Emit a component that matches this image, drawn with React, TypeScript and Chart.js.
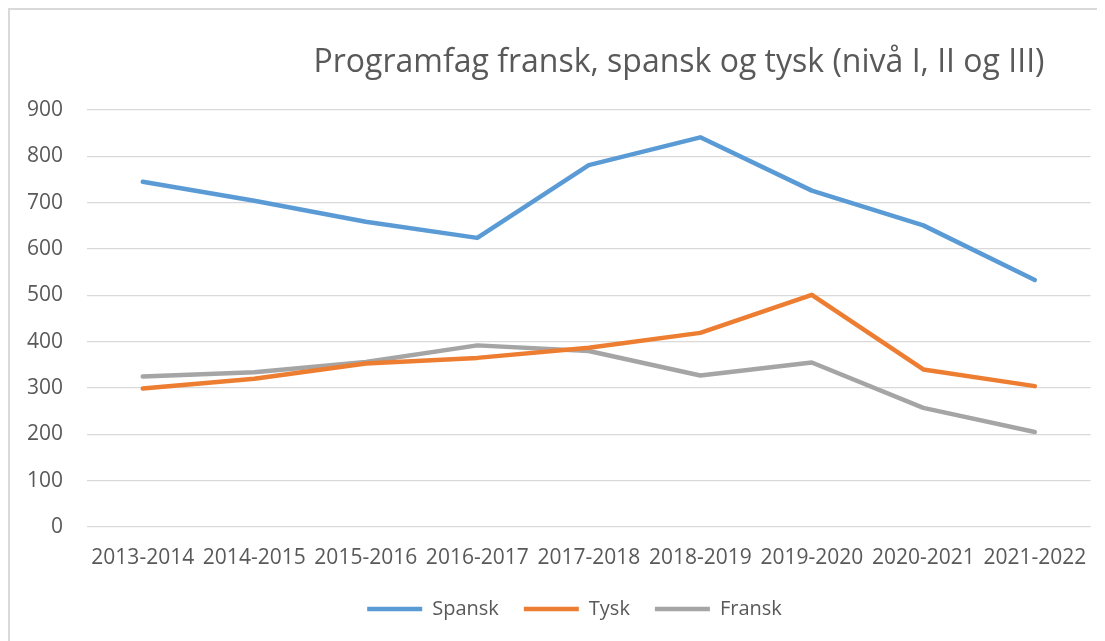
import React, { useEffect, useRef } from "react";
import { Chart, registerables } from "chart.js";

Chart.register(...registerables);

const TITLE = "Programfag fransk, spansk og tysk (nivå I, II og III)";
const categories = ["2013-2014", "2014-2015", "2015-2016", "2016-2017", "2017-2018", "2018-2019", "2019-2020", "2020-2021", "2021-2022"];
const spansk = [745, 704, 659, 624, 781, 841, 726, 651, 533];
const tysk = [299, 320, 353, 365, 387, 419, 501, 340, 304];
const fransk = [325, 334, 356, 392, 380, 327, 355, 257, 205];

const FONT = '"Open Sans", "DejaVu Sans", sans-serif';
const TEXT = "#595959";

const titlePlugin = {
  id: "customTitle",
  afterLayout(chart: any) {
    if (chart.legend) {
      chart.legend.left += 24;
      chart.legend.right += 24;
    }
  },
  afterDraw(chart: any) {
    const ctx = chart.ctx;
    ctx.save();
    ctx.font = `32px ${FONT}`;
    ctx.fillStyle = TEXT;
    ctx.textAlign = "center";
    ctx.textBaseline = "middle";
    ctx.fillText(TITLE, 669, 53);
    ctx.restore();
  },
};

export default function App() {
  const ref = useRef<HTMLCanvasElement>(null);
  useEffect(() => {
    if (!ref.current) return;
    const mk = (label: string, data: number[], color: string) => ({
      label,
      data,
      borderColor: color,
      backgroundColor: color,
      borderWidth: 4.5,
      pointRadius: 0,
      borderCapStyle: "round" as const,
      borderJoinStyle: "round" as const,
      tension: 0,
    });
    const chart = new Chart(ref.current, {
      type: "line",
      data: {
        labels: categories,
        datasets: [
          mk("Spansk", spansk, "#5B9BD5"),
          mk("Tysk", tysk, "#ED7D31"),
          mk("Fransk", fransk, "#A5A5A5"),
        ],
      },
      options: {
        animation: false,
        responsive: false,
        layout: { padding: { top: 100, right: 14, bottom: 12, left: 0 } },
        plugins: {
          title: { display: false },
          tooltip: { enabled: false },
          legend: {
            position: "bottom",
            labels: {
              usePointStyle: true,
              pointStyle: "line",
              pointStyleWidth: 55,
              boxHeight: 19,
              padding: 25,
              color: TEXT,
              font: { family: FONT, size: 20 },
            },
          },
        },
        scales: {
          x: {
            offset: true,
            grid: { display: false, drawTicks: false },
            border: { display: false },
            ticks: { color: TEXT, font: { family: FONT, size: 21 }, padding: 18, maxRotation: 0 },
            afterFit: (s: any) => { s.height = 47; },
          },
          y: {
            min: 0,
            max: 900,
            ticks: { stepSize: 100, color: TEXT, font: { family: FONT, size: 21 }, padding: 24 },
            grid: { color: "#D9D9D9", lineWidth: 1.3, drawTicks: false },
            border: { display: false },
            afterFit: (s: any) => { s.width = 77; },
          },
        },
      },
      plugins: [titlePlugin],
    });
    return () => chart.destroy();
  }, []);
  return (
    <div style={{ borderTop: "2px solid #D9D9D9", borderLeft: "2px solid #D9D9D9", width: 1095, height: 631 }}>
      <canvas ref={ref} width={1095} height={631} style={{ display: "block" }} />
    </div>
  );
}
